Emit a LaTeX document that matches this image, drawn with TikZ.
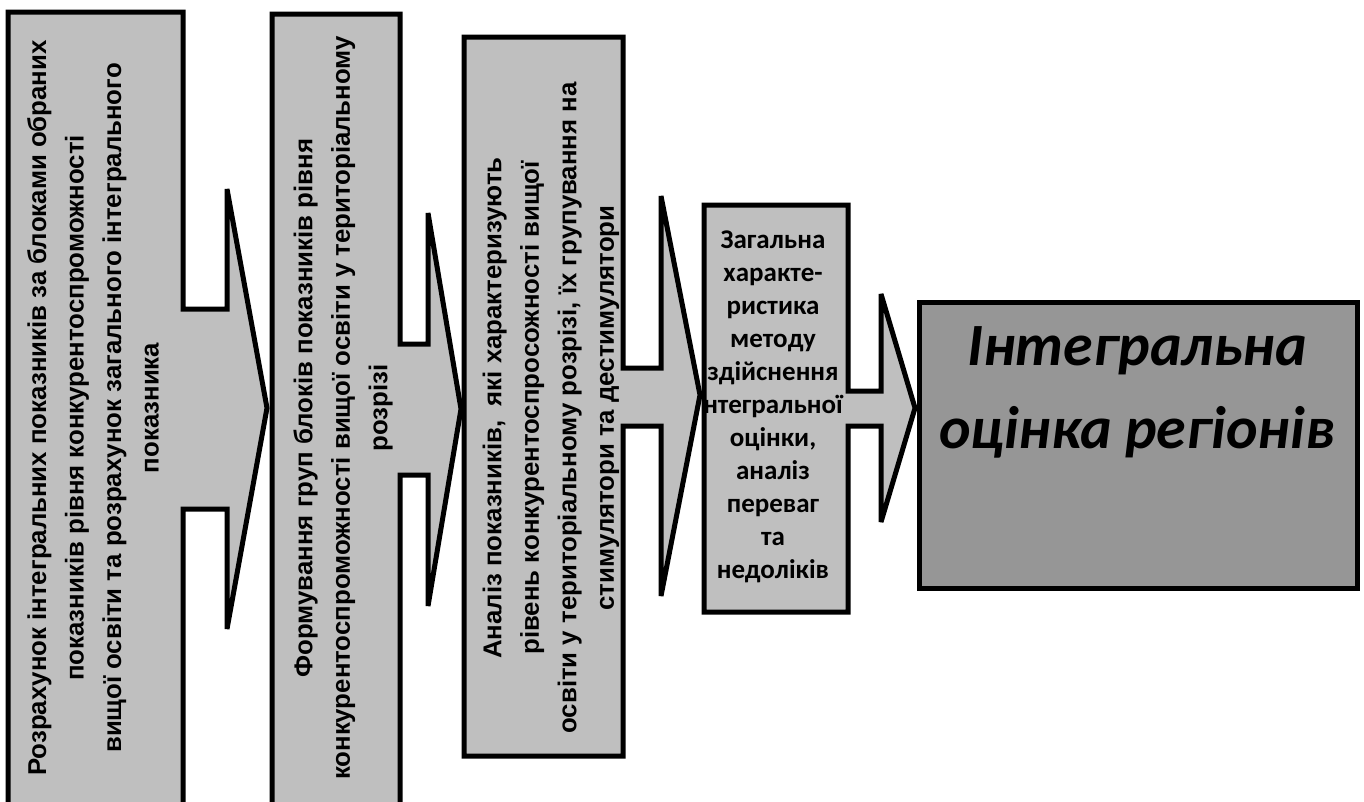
\documentclass[tikz,border=0pt]{standalone}
\usepackage{fontspec}
\setmainfont{Liberation Sans}
\newfontfamily\calfont{Carlito}
\usetikzlibrary{calc}
\colorlet{boxgray}{black!25}
\colorlet{endgray}{black!41}

\begin{document}
\begin{tikzpicture}[x=1pt,y=-1pt,line join=miter,miter limit=4,
  blk/.style={draw=black,line width=5pt,fill=boxgray},
  vtxt/.style={rotate=90,align=center,font=\fontsize{25.8}{37.5}\selectfont\bfseries}]
\useasboundingbox (0,0) rectangle (1364,801);
\clip (0,0) rectangle (1364,801);
% callouts
\draw[blk] (8,12) -- (183,12) -- (183,309) -- (227,309) -- (227,189) -- (267,408) -- (227,629) -- (227,509) -- (183,509) -- (183,840) -- (8,840) -- cycle;
\draw[blk] (272,14) -- (400,14) -- (400,344) -- (428,344) -- (428,213) -- (461,409) -- (428,606) -- (428,475) -- (400,475) -- (400,840) -- (272,840) -- cycle;
\draw[blk] (464,37) -- (623,37) -- (623,368) -- (661,368) -- (661,196) -- (700,395) -- (661,596) -- (661,426) -- (623,426) -- (623,756) -- (464,756) -- cycle;
\draw[blk] (704,205) -- (848,205) -- (848,391) -- (881,391) -- (881,294) -- (915,408) -- (881,522) -- (881,426) -- (848,426) -- (848,612) -- (704,612) -- cycle;
\draw[line width=5pt,fill=endgray] (919,302) rectangle (1357,588);
% texts
\node[vtxt] (rozrah) at (93,408) {Розрахунок інтегральних показників за блоками обраних\\ показників рівня конкурентоспроможності\\ вищої освіти та розрахунок загального інтегрального\\ показника};
\node[vtxt] (formuv) at (343,408) {Формування груп блоків показників рівня\\ конкурентоспроможності вищої освіти у територіальному\\ розрізі};
\node[vtxt] (analiz) at (551,408) {Аналіз показників,~ які характеризують\\ рівень конкурентоспросожності вищої\\ освіти у територіальному розрізі, їх групування на\\ стимулятори та дестимулятори};
\node[align=center,font=\calfont\fontsize{27}{33}\selectfont\bfseries] (metod) at (773,407) {Загальна\\ характе-\\ ристика\\ методу\\ здійснення\\ нтегральної\\ оцінки,\\ аналіз\\ переваг\\ та\\ недоліків};
\node[align=center,font=\calfont\fontsize{60}{83}\selectfont\bfseries\itshape] (ocinka) at (1137,392) {Інтегральна\\ оцінка регіонів};
\end{tikzpicture}
\end{document}
